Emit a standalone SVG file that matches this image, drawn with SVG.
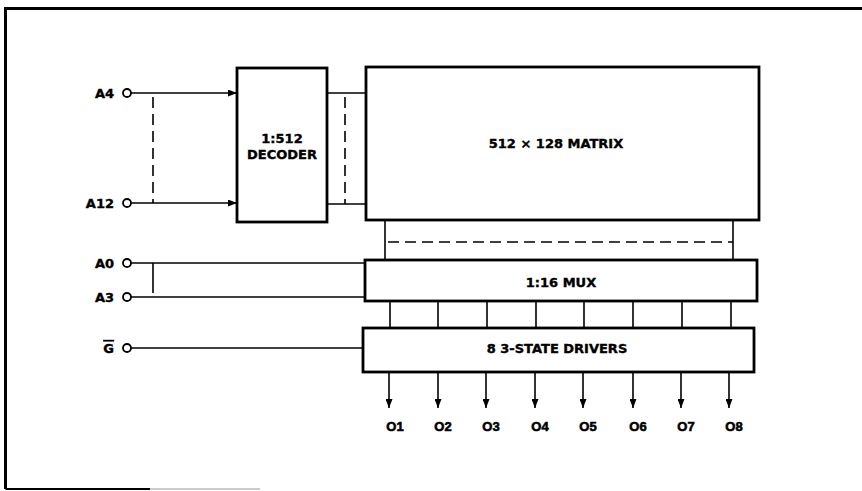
<svg xmlns="http://www.w3.org/2000/svg" width="862" height="491" viewBox="0 0 862 491">
<style>
.box{fill:#fff;stroke:#000;stroke-width:2.8}
.w{fill:none;stroke:#000;stroke-width:1.6}
.d{fill:none;stroke:#000;stroke-width:1.6;stroke-dasharray:11 6}
.pin{fill:#fff;stroke:#000;stroke-width:1.8}
text{font-family:"DejaVu Sans","Liberation Sans",sans-serif;font-weight:bold;font-size:13px;fill:#000;stroke:#000;stroke-width:0.4}
.o{font-family:"Liberation Sans",Arial,sans-serif;font-size:13px;stroke-width:0.6}
.c{text-anchor:middle}
.r{text-anchor:end}
</style>
<defs>
<marker id="ah" markerWidth="9" markerHeight="7" refX="9" refY="3.5" orient="auto" markerUnits="userSpaceOnUse">
<path d="M0,0 L9,3.5 L0,7 Z" fill="#000"/>
</marker>
</defs>
<g id="frame">
<path d="M5.5,489 L5.5,8.5 L862,8.5" fill="none" stroke="#000" stroke-width="3"/>
<path d="M5.5,489 L150,489" fill="none" stroke="#000" stroke-width="2"/>
<path d="M150,489 L260,489" fill="none" stroke="#bbb" stroke-width="1.5"/>
</g>
<g id="connectors">
<line class="w" x1="131" y1="93" x2="237" y2="93" marker-end="url(#ah)"/>
<line class="w" x1="131" y1="203" x2="237" y2="203" marker-end="url(#ah)"/>
<line class="d" x1="153" y1="93" x2="153" y2="203" stroke-dasharray="12 7" stroke-dashoffset="-4"/>
<line class="w" x1="327" y1="93" x2="366" y2="93"/>
<line class="w" x1="327" y1="204" x2="366" y2="204"/>
<line class="d" x1="345" y1="93" x2="345" y2="204" stroke-dasharray="12 7" stroke-dashoffset="-4"/>
<line class="w" x1="385" y1="220" x2="385" y2="260"/>
<line class="w" x1="733" y1="220" x2="733" y2="260"/>
<line class="d" x1="388" y1="242" x2="733" y2="242" stroke-dasharray="13 7"/>
<line class="w" x1="131" y1="263" x2="365" y2="263"/>
<line class="w" x1="131" y1="297" x2="365" y2="297"/>
<line class="w" x1="153" y1="263" x2="153" y2="297" stroke-dasharray="30 4"/>
<line class="w" x1="131" y1="348" x2="363" y2="348"/>
<line class="w" x1="390" y1="301" x2="390" y2="328"/>
<line class="w" x1="438" y1="301" x2="438" y2="328"/>
<line class="w" x1="487" y1="301" x2="487" y2="328"/>
<line class="w" x1="536" y1="301" x2="536" y2="328"/>
<line class="w" x1="584" y1="301" x2="584" y2="328"/>
<line class="w" x1="633" y1="301" x2="633" y2="328"/>
<line class="w" x1="682" y1="301" x2="682" y2="328"/>
<line class="w" x1="731" y1="301" x2="731" y2="328"/>
<line class="w" x1="389" y1="372" x2="389" y2="408" marker-end="url(#ah)"/>
<line class="w" x1="438" y1="372" x2="438" y2="408" marker-end="url(#ah)"/>
<line class="w" x1="486" y1="372" x2="486" y2="408" marker-end="url(#ah)"/>
<line class="w" x1="535" y1="372" x2="535" y2="408" marker-end="url(#ah)"/>
<line class="w" x1="583" y1="372" x2="583" y2="408" marker-end="url(#ah)"/>
<line class="w" x1="633" y1="372" x2="633" y2="408" marker-end="url(#ah)"/>
<line class="w" x1="681" y1="372" x2="681" y2="408" marker-end="url(#ah)"/>
<line class="w" x1="729" y1="372" x2="729" y2="408" marker-end="url(#ah)"/>
</g>
<g id="pin-A4"><circle class="pin" cx="127" cy="93" r="4"/><text class="r" x="114" y="98">A4</text></g>
<g id="pin-A12"><circle class="pin" cx="127" cy="203" r="4"/><text class="r" x="114" y="208">A12</text></g>
<g id="pin-A0"><circle class="pin" cx="127" cy="263" r="4"/><text class="r" x="114" y="268">A0</text></g>
<g id="pin-A3"><circle class="pin" cx="127" cy="297" r="4"/><text class="r" x="114" y="302">A3</text></g>
<g id="pin-G"><circle class="pin" cx="127" cy="348" r="4"/><text class="r" x="114" y="353" text-decoration="overline">G</text></g>
<g id="decoder">
<rect class="box" x="237" y="68" width="90" height="154"/>
<text class="c" x="282" y="143" font-size="14">1:512</text>
<text class="c" x="282" y="159" font-size="14">DECODER</text>
</g>
<g id="matrix">
<rect class="box" x="366" y="67" width="393" height="153"/>
<text class="c" x="556" y="148">512 × 128 MATRIX</text>
</g>
<g id="mux">
<rect class="box" x="365" y="260" width="392" height="41"/>
<text class="c" x="561" y="287">1:16 MUX</text>
</g>
<g id="drivers">
<rect class="box" x="363" y="328" width="391" height="44"/>
<text class="c" x="557" y="353">8 3-STATE DRIVERS</text>
</g>
<g id="outputs">
<text class="o c" x="395" y="431">O1</text>
<text class="o c" x="443" y="431">O2</text>
<text class="o c" x="491" y="431">O3</text>
<text class="o c" x="540" y="431">O4</text>
<text class="o c" x="588" y="431">O5</text>
<text class="o c" x="638" y="431">O6</text>
<text class="o c" x="686" y="431">O7</text>
<text class="o c" x="734" y="431">O8</text>
</g>
</svg>
